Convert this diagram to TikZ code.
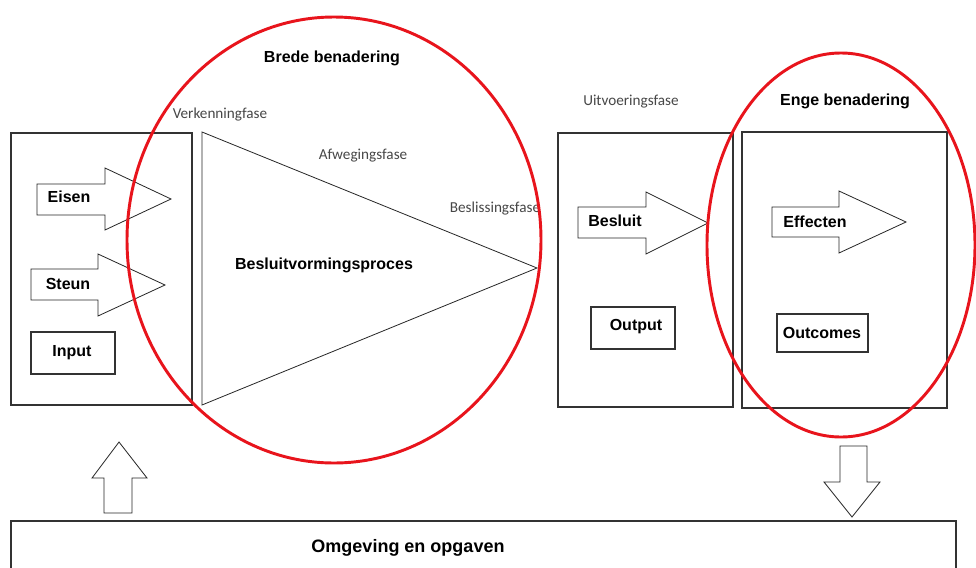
\documentclass[tikz,border=0pt]{standalone}
\usepackage{fontspec}
\setmainfont{Liberation Sans}
\newfontfamily\phasefont{Carlito}
\definecolor{ringred}{RGB}{232,20,28}
\begin{document}
\begin{tikzpicture}[x=0.75pt,y=-0.75pt,
  frame/.style={draw=black!80, line width=0.9pt},
  thinframe/.style={draw=black!85, line width=0.6pt},
  lbl/.style={font=\bfseries\fontsize{12}{14}\selectfont, text=black, inner sep=0pt},
  phase/.style={font=\phasefont\fontsize{11.4}{13}\selectfont, text=black!72, inner sep=0pt},
  ring/.style={draw=ringred, line width=2.2pt}]
\useasboundingbox (0,0) rectangle (976,568);
\fill[white] (0,0) rectangle (976,568);

% input column
\draw[frame] (11,133) rectangle (192,405);
\draw[thinframe] (37,184) -- (105,184) -- (105,168) -- (171,199) -- (105,230) -- (105,215) -- (37,215) -- cycle;
\draw[thinframe] (31,269) -- (98,269) -- (98,254) -- (165,285) -- (98,316) -- (98,300) -- (31,300) -- cycle;
\draw[frame] (31,332) rectangle (115,374);
\node[lbl] (eisen) at (69,197) {Eisen};
\node[lbl] (steun) at (68,284) {Steun};
\node[lbl] (input) at (72,353) {Input};

% decision process funnel
\draw[thinframe] (202,132) -- (537,268) -- (202,405) -- cycle;
\node[lbl] (proces) at (324,265) {Besluitvormingsproces};
\node[phase] (verk) at (220,115) {Verkenningfase};
\node[phase] (afw) at (363,156) {Afwegingsfase};
\node[phase] (besl) at (495,209) {Beslissingsfase};
\node[lbl] (brede) at (332,58) {Brede benadering};

% output column
\draw[frame] (558,133) rectangle (733,407);
\draw[thinframe] (578,207) -- (646,207) -- (646,192) -- (708,223) -- (646,254) -- (646,238) -- (578,238) -- cycle;
\draw[frame] (591,307) rectangle (675,349);
\node[lbl] (besluit) at (615,221) {Besluit};
\node[lbl] (output) at (636,327) {Output};
\node[phase] (uitv) at (631,102) {Uitvoeringsfase};

% outcomes column
\draw[frame] (742,132) rectangle (947,408);
\draw[thinframe] (772,207) -- (839,207) -- (839,191) -- (906,222) -- (839,253) -- (839,237) -- (772,237) -- cycle;
\draw[frame] (777,314) rectangle (868,352);
\node[lbl] (effecten) at (815,222) {Effecten};
\node[lbl] (outcomes) at (822,333) {Outcomes};
\node[lbl] (enge) at (845,101) {Enge benadering};

% environment feedback
\draw[thinframe] (104,513) -- (104,478) -- (92,478) -- (119,442) -- (147,478) -- (132,478) -- (132,513) -- cycle;
\draw[thinframe] (840,446) -- (867,446) -- (867,482) -- (880,482) -- (852,517) -- (824,482) -- (840,482) -- cycle;
\draw[frame] (11,572) -- (11,521) -- (956,521) -- (956,572);
\node[lbl, font=\bfseries\fontsize{13.5}{15}\selectfont] (omgeving) at (408,548) {Omgeving en opgaven};

% scope rings
\draw[ring] (334,240) ellipse [x radius=207, y radius=223];
\draw[ring] (841,245) ellipse [x radius=134, y radius=192];
\end{tikzpicture}
\end{document}
